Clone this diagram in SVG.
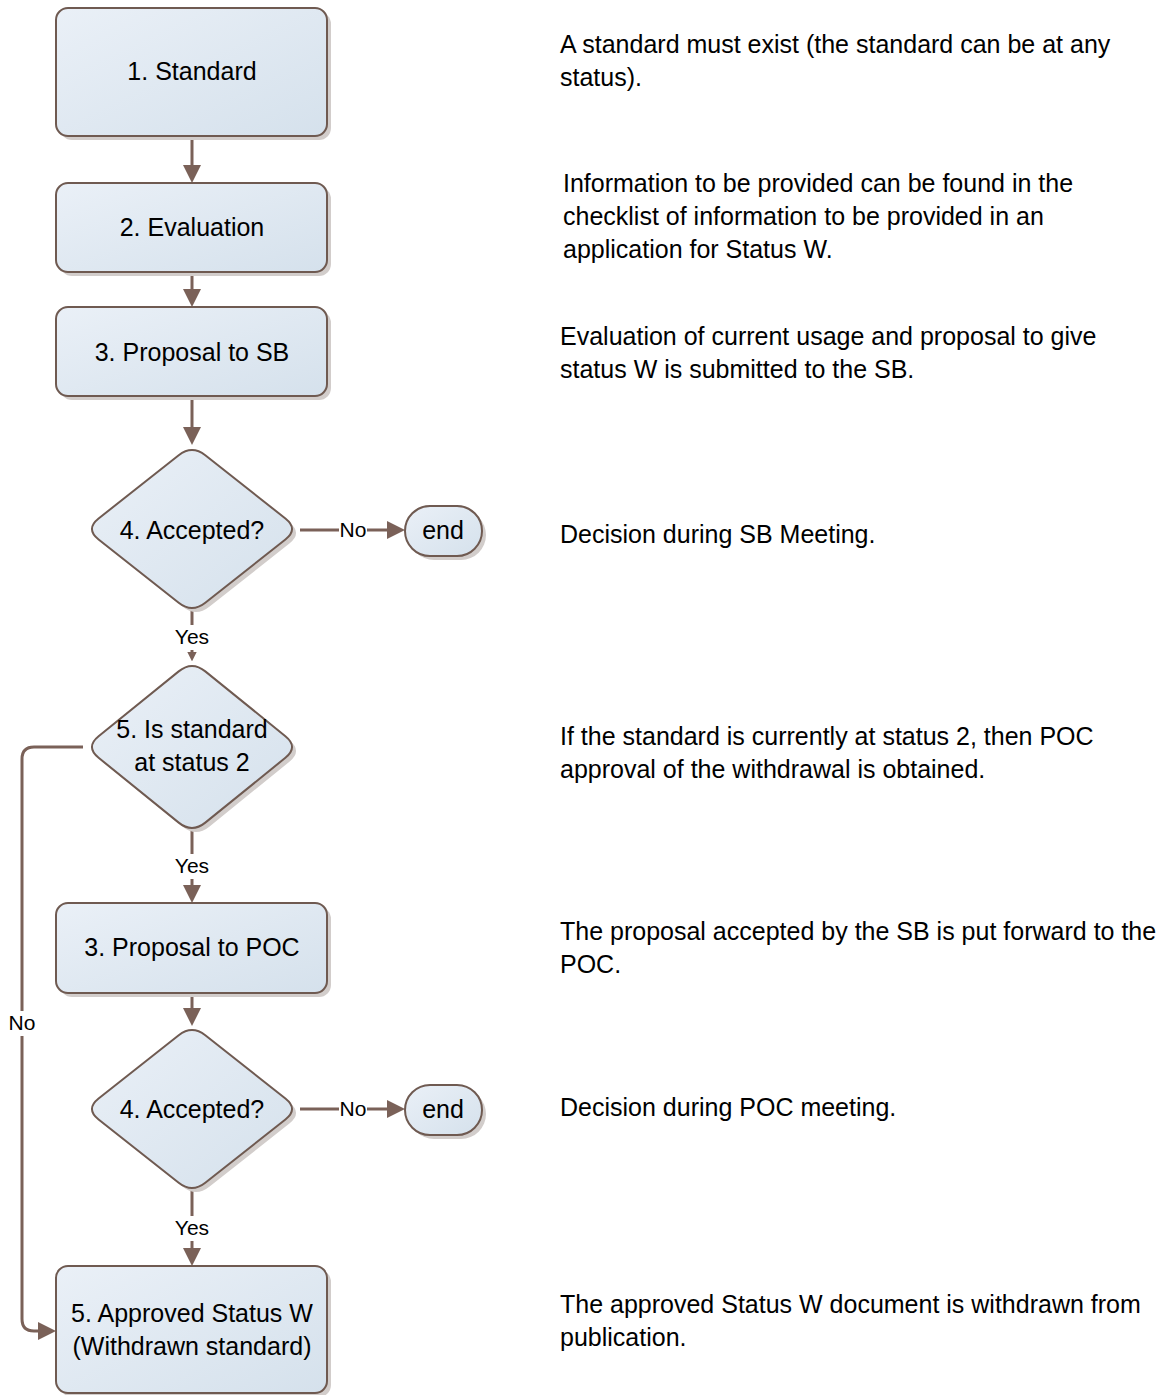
<svg xmlns="http://www.w3.org/2000/svg" xmlns:xlink="http://www.w3.org/1999/xlink" width="1163" height="1395" viewBox="0 0 1163 1395">
  <style>
    .shape { fill: url(#nodeFill); stroke: #6f5a51; stroke-width: 2; }
    .shadow { fill: #d2cdcb; }
    .label { font-family: "Liberation Sans", Arial, sans-serif; font-size: 25px; fill: #000; text-anchor: middle; }
    .note { font-family: "Liberation Sans", Arial, sans-serif; font-size: 25px; fill: #000; }
    .conn { fill: none; stroke: #7a6158; stroke-width: 3; }
    .clabel { font-family: "Liberation Sans", Arial, sans-serif; font-size: 21px; fill: #000; text-anchor: middle; }
    .bg { fill: #fff; }
  </style>
  <defs>
    <linearGradient id="nodeFill" x1="0" y1="0" x2="1" y2="1">
      <stop offset="0" stop-color="#eaf0f7"/>
      <stop offset="1" stop-color="#d5e1ec"/>
    </linearGradient>
    <marker id="arrow" viewBox="0 0 10 10" refX="5" refY="5" markerWidth="6" markerHeight="6" orient="auto" markerUnits="strokeWidth">
      <path d="M0,0 L10,5 L0,10 Z" fill="#7a6158"/>
    </marker>
    <marker id="arrowSmall" viewBox="0 0 10 10" refX="5.5" refY="5" markerWidth="3.2" markerHeight="3.2" orient="auto" markerUnits="strokeWidth">
      <path d="M0,0 L10,5 L0,10 Z" fill="#7a6158"/>
    </marker>
    <!-- decision diamond centred on the origin, with softened corners -->
    <path id="diamond" d="M-13.3,-73.8 Q0,-84.3 13.3,-73.8 L93.4,-10.5 Q106.7,0 93.4,10.5 L13.3,73.8 Q0,84.3 -13.3,73.8 L-93.4,10.5 Q-106.7,0 -93.4,-10.5 Z"/>
  </defs>

  <rect width="1163" height="1395" fill="#fff"/>

  <!-- connectors -->
  <g id="connectors">
    <path class="conn" d="M192,137 V174" marker-end="url(#arrow)"/>
    <path class="conn" d="M192,273 V298" marker-end="url(#arrow)"/>
    <path class="conn" d="M192,397 V436" marker-end="url(#arrow)"/>

    <path class="conn" d="M300,530 H396" marker-end="url(#arrow)"/>
    <rect class="bg" x="339" y="518" width="28" height="24"/>
    <text class="clabel" x="353" y="537">No</text>

    <path class="conn" d="M192,609 V657" marker-end="url(#arrowSmall)"/>
    <rect class="bg" x="173" y="625" width="38" height="25"/>
    <text class="clabel" x="192" y="644">Yes</text>

    <path class="conn" d="M83,747 H34 Q22,747 22,759 V1319 Q22,1331 34,1331 H47" marker-end="url(#arrow)"/>
    <rect class="bg" x="7" y="1011" width="30" height="25"/>
    <text class="clabel" x="22" y="1030">No</text>

    <path class="conn" d="M192,829 V894" marker-end="url(#arrow)"/>
    <rect class="bg" x="173" y="854" width="38" height="25"/>
    <text class="clabel" x="192" y="873">Yes</text>

    <path class="conn" d="M192,994 V1017" marker-end="url(#arrow)"/>

    <path class="conn" d="M300,1109 H396" marker-end="url(#arrow)"/>
    <rect class="bg" x="339" y="1097" width="28" height="24"/>
    <text class="clabel" x="353" y="1116">No</text>

    <path class="conn" d="M192,1189 V1257" marker-end="url(#arrow)"/>
    <rect class="bg" x="173" y="1216" width="38" height="25"/>
    <text class="clabel" x="192" y="1235">Yes</text>
  </g>

  <!-- process steps and decisions -->
  <g id="step1">
    <rect class="shadow" x="60" y="12" width="271" height="128" rx="12"/>
    <rect class="shape" x="56" y="8" width="271" height="128" rx="12"/>
    <text class="label" x="192" y="80">1. Standard</text>
  </g>
  <g id="step2">
    <rect class="shadow" x="60" y="187" width="271" height="89" rx="12"/>
    <rect class="shape" x="56" y="183" width="271" height="89" rx="12"/>
    <text class="label" x="192" y="236">2. Evaluation</text>
  </g>
  <g id="step3">
    <rect class="shadow" x="60" y="311" width="271" height="89" rx="12"/>
    <rect class="shape" x="56" y="307" width="271" height="89" rx="12"/>
    <text class="label" x="192" y="361">3. Proposal to SB</text>
  </g>
  <g id="decision4">
    <use href="#diamond" xlink:href="#diamond" class="shadow" transform="translate(196,533)"/>
    <use href="#diamond" xlink:href="#diamond" class="shape" transform="translate(192,529)"/>
    <text class="label" x="192" y="539">4. Accepted?</text>
  </g>
  <g id="end1">
    <rect class="shadow" x="409" y="510" width="77" height="50" rx="25"/>
    <rect class="shape" x="405" y="506" width="77" height="50" rx="25"/>
    <text class="label" x="443" y="539">end</text>
  </g>
  <g id="decision5">
    <use href="#diamond" xlink:href="#diamond" class="shadow" transform="translate(196,751) scale(1,1.025)"/>
    <use href="#diamond" xlink:href="#diamond" class="shape" transform="translate(192,747) scale(1,1.025)"/>
    <text class="label" x="192" y="738">5. Is standard</text>
    <text class="label" x="192" y="771">at status 2</text>
  </g>
  <g id="step6">
    <rect class="shadow" x="60" y="907" width="271" height="90" rx="12"/>
    <rect class="shape" x="56" y="903" width="271" height="90" rx="12"/>
    <text class="label" x="192" y="956">3. Proposal to POC</text>
  </g>
  <g id="decision7">
    <use href="#diamond" xlink:href="#diamond" class="shadow" transform="translate(196,1113)"/>
    <use href="#diamond" xlink:href="#diamond" class="shape" transform="translate(192,1109)"/>
    <text class="label" x="192" y="1118">4. Accepted?</text>
  </g>
  <g id="end2">
    <rect class="shadow" x="409" y="1089" width="77" height="50" rx="25"/>
    <rect class="shape" x="405" y="1085" width="77" height="50" rx="25"/>
    <text class="label" x="443" y="1118">end</text>
  </g>
  <g id="step8">
    <rect class="shadow" x="60" y="1270" width="271" height="127" rx="12"/>
    <rect class="shape" x="56" y="1266" width="271" height="127" rx="12"/>
    <text class="label" x="192" y="1322">5. Approved Status W</text>
    <text class="label" x="192" y="1355">(Withdrawn standard)</text>
  </g>

  <!-- explanatory notes -->
  <g id="notes">
    <text class="note" x="560" y="53">A standard must exist (the standard can be at any</text>
    <text class="note" x="560" y="86">status).</text>
    <text class="note" x="563" y="192">Information to be provided can be found in the</text>
    <text class="note" x="563" y="225">checklist of information to be provided in an</text>
    <text class="note" x="563" y="258">application for Status W.</text>
    <text class="note" x="560" y="345">Evaluation of current usage and proposal to give</text>
    <text class="note" x="560" y="378">status W is submitted to the SB.</text>
    <text class="note" x="560" y="543">Decision during SB Meeting.</text>
    <text class="note" x="560" y="745">If the standard is currently at status 2, then POC</text>
    <text class="note" x="560" y="778">approval of the withdrawal is obtained.</text>
    <text class="note" x="560" y="940">The proposal accepted by the SB is put forward to the</text>
    <text class="note" x="560" y="973">POC.</text>
    <text class="note" x="560" y="1116">Decision during POC meeting.</text>
    <text class="note" x="560" y="1313">The approved Status W document is withdrawn from</text>
    <text class="note" x="560" y="1346">publication.</text>
  </g>
</svg>
